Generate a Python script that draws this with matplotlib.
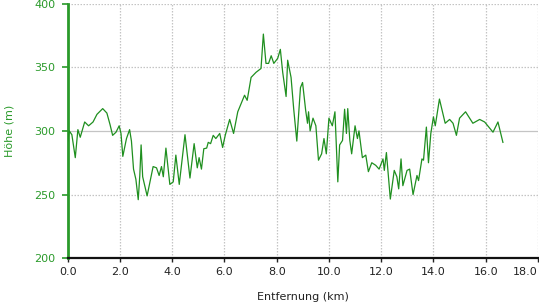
import matplotlib.pyplot as plt

# Höhenprofil
dist_km = [0.00, 0.06, 0.16, 0.29, 0.39, 0.48, 0.65, 0.80, 0.97, 1.12, 1.34, 1.50,
           1.62, 1.72, 1.85, 1.97, 2.04, 2.11, 2.25, 2.37, 2.44, 2.52, 2.61, 2.70,
           2.76, 2.81, 2.87, 3.04, 3.27, 3.40, 3.50, 3.59, 3.66, 3.76, 3.91, 4.04,
           4.14, 4.27, 4.49, 4.68, 4.84, 4.96, 5.03, 5.12, 5.21, 5.32, 5.38, 5.47,
           5.57, 5.67, 5.82, 5.93, 6.03, 6.20, 6.35, 6.51, 6.77, 6.87, 7.02, 7.21,
           7.40, 7.49, 7.59, 7.69, 7.79, 7.89, 8.04, 8.14, 8.23, 8.36, 8.42, 8.55,
           8.65, 8.77, 8.91, 8.99, 9.11, 9.18, 9.22, 9.28, 9.39, 9.50, 9.60, 9.72,
           9.81, 9.90, 10.00, 10.13, 10.23, 10.34, 10.41, 10.52, 10.60, 10.67, 10.72,
           10.80, 10.87, 11.00, 11.09, 11.15, 11.28, 11.41, 11.51, 11.64, 11.79,
           11.92, 12.07, 12.12, 12.20, 12.35, 12.50, 12.60, 12.67, 12.76, 12.83,
           12.99, 13.09, 13.22, 13.37, 13.43, 13.56, 13.62, 13.73, 13.81, 13.90,
           14.00, 14.07, 14.23, 14.45, 14.62, 14.75, 14.88, 15.00, 15.23, 15.51,
           15.77, 15.96, 16.28, 16.47, 16.66]
hoehe_m = [292, 300, 297, 279, 301, 295, 307, 304, 307, 313, 317.5, 314,
           305, 296.5, 299, 304, 298, 280, 294, 301, 292, 270, 262, 246,
           265, 289, 264, 249, 272, 271, 265, 272, 264, 286.5, 258, 260,
           281, 258, 297, 263, 290, 271, 279, 270, 286, 286.5, 291, 290,
           296.5, 294, 298, 287, 296.5, 309, 298, 315, 328, 324, 342, 346,
           349, 376, 353, 353, 359, 353, 357, 364, 346, 327, 355.5, 342,
           317.5, 292, 334, 338, 316, 306, 315, 300, 310, 304, 277, 282,
           294, 282, 310, 304, 315, 260, 289, 292.5, 317, 298, 317.5,
           292.5, 282, 304, 294, 300, 279, 281, 268, 275, 273,
           270, 278, 269, 283, 246.5, 269, 264, 254.5, 278, 257,
           269, 270, 250, 265, 261, 278, 277, 303, 275, 298,
           311, 304, 325, 306, 309, 306, 296.5, 310, 315, 306,
           309, 307, 299, 307, 291]

x_ticks = [0, 2, 4, 6, 8, 10, 12, 14, 16, 18]
x_labels = ["0.0", "2.0", "4.0", "6.0", "8.0", "10.0", "12.0", "14.0", "16.0", "18.0"]
y_ticks = [200, 250, 300, 350, 400]

green = "#2a9a2a"
plt.rcParams['font.family'] = ['DejaVu Sans']

fig = plt.figure(figsize=(5.39, 3.08), dpi=100)
ax = fig.add_axes([0.1256, 0.1614, 0.8724, 0.8272])

ax.set_xlim(0, 18)
ax.set_ylim(200, 400)

# Gitter: gepunktet, 300 m durchgezogen
for x in x_ticks[1:]:
    ax.axvline(x, color="#c4c4c4", lw=0.9, ls=(0, (1.2, 1.2)), zorder=1)
for y in y_ticks[1:]:
    if y == 300:
        ax.axhline(y, color="#c4c4c4", lw=0.9, zorder=1)
    else:
        ax.axhline(y, color="#c4c4c4", lw=0.9, ls=(0, (1.2, 1.2)), zorder=1)

ax.plot(dist_km, hoehe_m, color="#1f8f1f", lw=0.9, zorder=3)

for s in ["top", "right"]:
    ax.spines[s].set_visible(False)
ax.spines["left"].set_color(green)
ax.spines["left"].set_linewidth(2)
ax.spines["bottom"].set_color("#111111")
ax.spines["bottom"].set_linewidth(1.6)

ax.set_xticks(x_ticks)
ax.set_xticklabels(x_labels)
ax.set_yticks(y_ticks)
ax.tick_params(axis="x", colors="#222222", labelsize=8, length=3, width=1, direction="out", pad=3)
ax.tick_params(axis="y", colors=green, labelsize=8, length=4, width=1.2, direction="out", pad=5)
ax.get_xticklabels()[-1].set_horizontalalignment("right")

ax.set_xlabel("Entfernung (km)", fontsize=8, color="#222222", labelpad=11)
ax.set_ylabel("Höhe (m)", fontsize=8, color=green, labelpad=14)

fig.savefig("out.png", dpi=100)
